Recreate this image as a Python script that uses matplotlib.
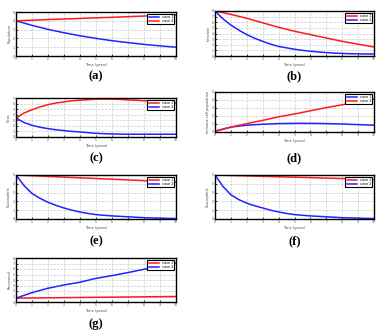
import matplotlib
matplotlib.use("Agg")
import matplotlib.pyplot as plt

# x axis: time 0..10
t = [0, 1, 2, 3, 4, 5, 6, 7, 8, 9, 10]
t2 = [0, 0.5, 1, 1.5, 2, 2.5, 3, 3.5, 4, 4.5, 5, 5.5, 6, 6.5, 7, 7.5, 8, 8.5, 9, 9.5, 10]

a_blue = [4.0, 3.48, 3.03, 2.64, 2.30, 2.0, 1.74, 1.52, 1.32, 1.15, 1.0]
a_red = [4.0, 4.07, 4.14, 4.2, 4.27, 4.34, 4.4, 4.47, 4.54, 4.6, 4.67]

b_red = [8.0, 7.4, 6.7, 5.9, 5.1, 4.4, 3.8, 3.2, 2.6, 2.1, 1.6]
b_blue = [8.0, 6.6, 5.5, 4.6, 3.8, 3.15, 2.6, 2.1, 1.7, 1.45, 1.2,
          1.0, 0.85, 0.72, 0.6, 0.52, 0.45, 0.41, 0.38, 0.36, 0.35]

c_red = [3.4, 4.3, 4.9, 5.4, 5.8, 6.1, 6.3, 6.5, 6.6, 6.7, 6.8,
         6.8, 6.8, 6.75, 6.65, 6.6, 6.5, 6.45, 6.35, 6.25, 6.1]
c_blue = [3.4, 2.6, 2.1, 1.75, 1.5, 1.3, 1.15, 1.0, 0.9, 0.78, 0.66,
          0.6, 0.55, 0.52, 0.5, 0.5, 0.5, 0.5, 0.5, 0.5, 0.5]

d_blue = [0.1, 0.62, 0.85, 0.97, 1.05, 1.08, 1.08, 1.05, 1.0, 0.92, 0.85]
d_red = [0.1, 0.6, 1.05, 1.45, 1.9, 2.25, 2.65, 3.05, 3.4, 3.75, 4.1]

e_red = [5.0, 4.92, 4.84, 4.76, 4.68, 4.6, 4.52, 4.44, 4.36, 4.28, 4.2]
e_blue = [5.0, 3.8, 2.9, 2.35, 1.9, 1.55, 1.25, 1.0, 0.8, 0.63, 0.5,
          0.42, 0.35, 0.3, 0.25, 0.2, 0.15, 0.12, 0.1, 0.07, 0.05]

f_red = [5.0, 4.95, 4.9, 4.85, 4.8, 4.75, 4.7, 4.65, 4.6, 4.55, 4.5]
f_blue = [5.0, 3.7, 2.75, 2.2, 1.8, 1.5, 1.25, 1.0, 0.8, 0.63, 0.5,
          0.42, 0.35, 0.3, 0.25, 0.2, 0.15, 0.12, 0.1, 0.07, 0.05]

g_red = [0.7, 0.73, 0.76, 0.79, 0.82, 0.85, 0.88, 0.91, 0.94, 0.97, 1.0]
g_blue = [0.7, 1.7, 2.5, 3.1, 3.6, 4.3, 4.8, 5.35, 5.95, 6.5, 7.1]

W, H = 382, 336
fig = plt.figure(figsize=(W / 100, H / 100), dpi=100)

def make_ax(l, t_, r, b):
    return fig.add_axes([l / W, 1 - b / H, (r - l) / W, (b - t_) / H])

RED = "#ff1a1a"
BLUE = "#2323ff"

def panel(box, series, ylim, yticks, ylabel, tag, tag_y):
    ax = make_ax(*box)
    for x, y, c, lab in series:
        ax.plot(x, y, color=c, lw=1.1, label=lab)
    ax.set_xlim(0, 10)
    ax.set_ylim(*ylim)
    ax.set_xticks(range(11))
    ax.set_yticks(yticks)
    ax.tick_params(direction="in", labelsize=2.2, length=1.5, width=0.5, pad=1,
                   labelcolor="#444444")
    ax.grid(True, ls="--", color="#cccccc", lw=0.5)
    for s in ax.spines.values():
        s.set_linewidth(1.0)
    ax.set_xlabel("Time (years)", fontsize=2.5, labelpad=1, color="#444444")
    ax.set_ylabel(ylabel, fontsize=2.5, labelpad=1, color="#444444")
    leg = ax.legend(loc="upper right", fontsize=2.5, handlelength=3.0,
                    borderpad=0.3, labelspacing=0.1, fancybox=False,
                    framealpha=1, edgecolor="black")
    leg.get_frame().set_linewidth(0.8)
    cx = (box[0] + box[2]) / 2
    fig.text(cx / W, 1 - tag_y / H, tag, ha="center", va="center",
             fontsize=9, fontweight="bold", family="Liberation Serif")
    return ax

panel((16, 12, 176, 56), [(t, a_blue, BLUE, "case 1"), (t, a_red, RED, "case 2")],
      (0, 5), range(6), "Population", "(a)", 76)
panel((215, 11, 374, 56), [(t, b_red, RED, "case 1"), (t2, b_blue, BLUE, "case 2")],
      (0, 8), range(9), "Infected", "(b)", 76)
panel((16, 98, 176, 137), [(t2, c_red, RED, "case 1"), (t2, c_blue, BLUE, "case 2")],
      (0, 7), range(8), "Virus", "(c)", 158)
panel((215, 92, 374, 132), [(t, d_blue, BLUE, "case 1"), (t, d_red, RED, "case 2")],
      (0, 5), range(6), "Immune cell population", "(d)", 158)
panel((16, 175, 176, 219), [(t, e_red, RED, "case 1"), (t2, e_blue, BLUE, "case 2")],
      (0, 5), range(6), "Susceptible", "(e)", 241)
panel((215, 175, 374, 219), [(t, f_red, RED, "case 1"), (t2, f_blue, BLUE, "case 2")],
      (0, 5), range(6), "Susceptible", "(f)", 241)
panel((16, 258, 176, 302), [(t, g_red, RED, "case 1"), (t, g_blue, BLUE, "case 2")],
      (0, 8), range(9), "Recovered", "(g)", 324)

fig.savefig("out.png", dpi=100)
